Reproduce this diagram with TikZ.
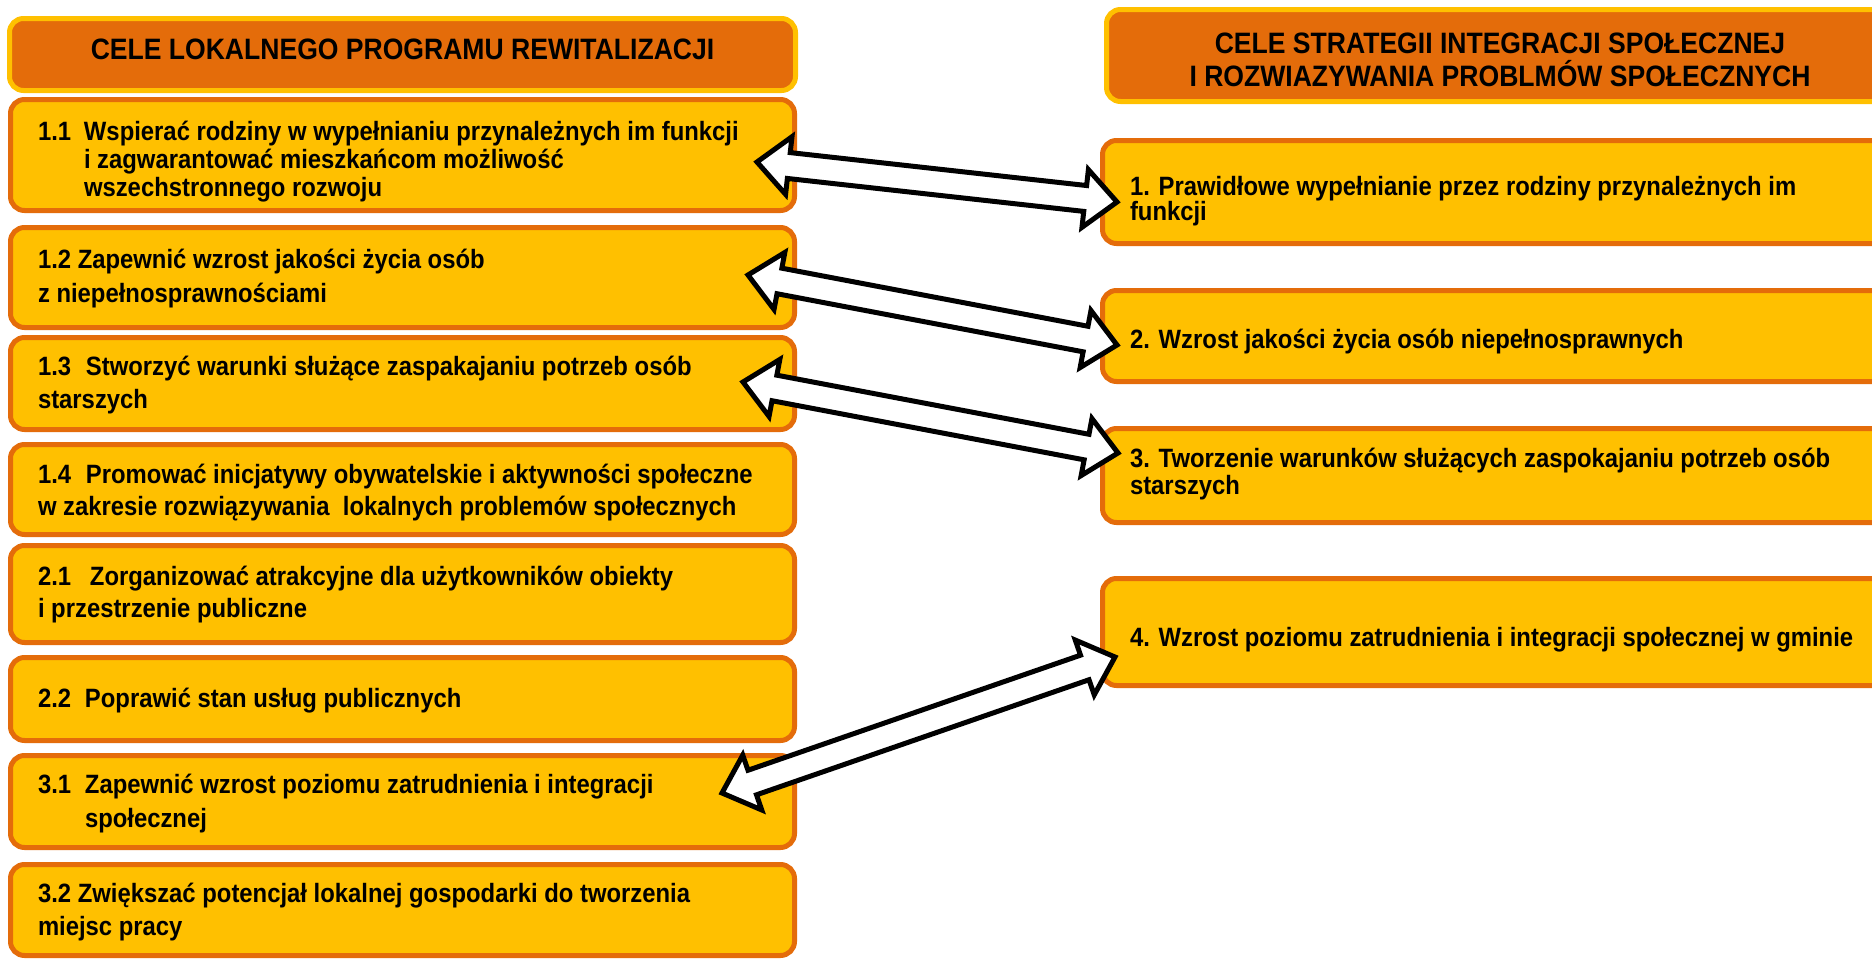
\documentclass[tikz,border=0pt]{standalone}
\usepackage{fontspec}
\setmainfont{Liberation Sans}[FakeStretch=0.9]
\usetikzlibrary{calc}
\definecolor{orng}{RGB}{228,108,10}
\definecolor{gold}{RGB}{255,192,0}
\newcommand\gf[1]{\fontsize{26.5}{#1}\selectfont\bfseries}
\newcommand\hf{\fontsize{29.5}{33}\selectfont\bfseries}
\newcommand\dblarr[2]{%
 \draw[arr] (#1) -- ($(#1)!32pt!(#2)!29pt!90:(#2)$) -- ($(#1)!32pt!(#2)!13pt!90:(#2)$)
  -- ($(#2)!32pt!(#1)!13pt!-90:(#1)$) -- ($(#2)!32pt!(#1)!29pt!-90:(#1)$) -- (#2)
  -- ($(#2)!32pt!(#1)!29pt!90:(#1)$) -- ($(#2)!32pt!(#1)!13pt!90:(#1)$)
  -- ($(#1)!32pt!(#2)!13pt!-90:(#2)$) -- ($(#1)!32pt!(#2)!29pt!-90:(#2)$) -- cycle;}
\tikzset{
 box/.style={rounded corners=14pt, line width=5pt, inner sep=0pt, outer sep=0pt},
 hdr/.style={box, draw=gold, fill=orng, font=\hf},
 goal/.style={box, draw=orng, fill=gold},
 lbox/.style={goal, minimum width=784pt},
 rbox/.style={goal, minimum width=795pt},
 arr/.style={draw=black, fill=white, line width=5pt, line join=miter}
}
\begin{document}
\begin{tikzpicture}[x=1pt,y=-1pt]
\clip (0,0) rectangle (1872,961);
\fill[white] (0,0) rectangle (1872,961);
% left column
\node[hdr, minimum width=786pt, minimum height=72pt, text height=9pt, text depth=0pt] (lh) at (402.5,54.5)
 {\parbox[t]{786pt}{\centering CELE LOKALNEGO PROGRAMU REWITALIZACJI}};
\node[lbox, minimum height=111pt, text height=0pt, text depth=30pt, font=\gf{28}] (b11) at (402.5,155)
 {\parbox[t]{729pt}{\raggedright\makebox[46pt][l]{1.1}Wspierać rodziny w wypełnianiu przynależnych im funkcji\\
 \hspace*{46pt}i zagwarantować mieszkańcom możliwość\\ \hspace*{46pt}wszechstronnego rozwoju}};
\node[lbox, minimum height=100pt, text height=0pt, text depth=19pt, font=\gf{34}] (b12) at (402.5,277.5)
 {\parbox[t]{729pt}{\raggedright 1.2 Zapewnić wzrost jakości życia osób\\ z niepełnosprawnościami}};
\node[lbox, minimum height=92pt, text height=0pt, text depth=17pt, font=\gf{33}] (b13) at (402.5,383.5)
 {\parbox[t]{729pt}{\raggedright\makebox[48pt][l]{1.3}Stworzyć warunki służące zaspakajaniu potrzeb osób\\ starszych}};
\node[lbox, minimum height=90pt, text height=0pt, text depth=13pt, font=\gf{32}] (b14) at (402.5,489.5)
 {\parbox[t]{729pt}{\raggedright\makebox[48pt][l]{1.4}Promować inicjatywy obywatelskie i aktywności społeczne\\ w zakresie rozwiązywania\ \ lokalnych problemów społecznych}};
\node[lbox, minimum height=97pt, text height=0pt, text depth=18pt, font=\gf{32}] (b21) at (402.5,594)
 {\parbox[t]{729pt}{\raggedright\makebox[52pt][l]{2.1}Zorganizować atrakcyjne dla użytkowników obiekty\\ i przestrzenie publiczne}};
\node[lbox, minimum height=83pt, text height=16pt, text depth=0pt, font=\gf{33}] (b22) at (402.5,699)
 {\parbox[t]{729pt}{\raggedright\makebox[47pt][l]{2.2}Poprawić stan usług publicznych}};
\node[lbox, minimum height=92pt, text height=0pt, text depth=17pt, font=\gf{34}] (b31) at (402.5,801.5)
 {\parbox[t]{729pt}{\raggedright\makebox[47pt][l]{3.1}Zapewnić wzrost poziomu zatrudnienia i integracji\\ \hspace*{47pt}społecznej}};
\node[lbox, minimum height=91pt, text height=0pt, text depth=16pt, font=\gf{33}] (b32) at (402.5,910)
 {\parbox[t]{729pt}{\raggedright 3.2 Zwiększać potencjał lokalnej gospodarki do tworzenia\\ miejsc pracy}};
% right column
\node[hdr, minimum width=787pt, minimum height=92pt, text height=0pt, text depth=5pt] (rh) at (1500,55.5)
 {\parbox[t]{787pt}{\centering\baselineskip=33pt CELE STRATEGII INTEGRACJI SPOŁECZNEJ\\ I ROZWIAZYWANIA PROBLMÓW SPOŁECZNYCH}};
\node[rbox, minimum height=103pt, text height=6pt, text depth=0pt, font=\gf{25}] (r1) at (1500,192)
 {\parbox[t]{740pt}{\raggedright 1. Prawidłowe wypełnianie przez rodziny przynależnych im\\ funkcji}};
\node[rbox, minimum height=91pt, text height=24pt, text depth=0pt, font=\gf{27}] (r2) at (1500,336)
 {\parbox[t]{740pt}{\raggedright 2. Wzrost jakości życia osób niepełnosprawnych}};
\node[rbox, minimum height=94pt, text height=0pt, text depth=17pt, font=\gf{27}] (r3) at (1500,475.5)
 {\parbox[t]{740pt}{\raggedright 3. Tworzenie warunków służących zaspokajaniu potrzeb osób\\ starszych}};
\node[rbox, minimum height=107pt, text height=28pt, text depth=0pt, font=\gf{27}] (r4) at (1500,632)
 {\parbox[t]{740pt}{\raggedright 4. Wzrost poziomu zatrudnienia i integracji społecznej w gminie}};
% arrow tips
\coordinate (a1l) at (757,162);
\coordinate (a1r) at (1117,202);
\coordinate (a2l) at (748,275);
\coordinate (a2r) at (1117,345);
\coordinate (a3l) at (743,382);
\coordinate (a3r) at (1118,453);
\coordinate (a4l) at (722,793);
\coordinate (a4r) at (1115,657);
\dblarr{a1l}{a1r}
\dblarr{a2l}{a2r}
\dblarr{a3l}{a3r}
\dblarr{a4l}{a4r}
\end{tikzpicture}
\end{document}
